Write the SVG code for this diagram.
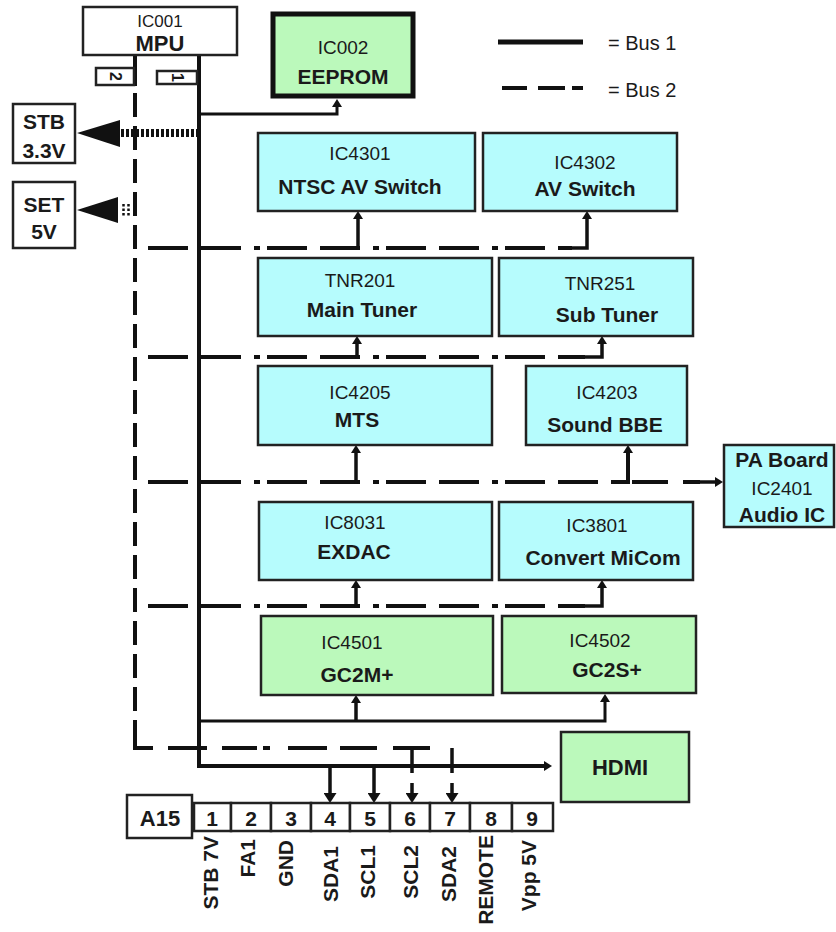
<svg xmlns="http://www.w3.org/2000/svg" width="836" height="932" viewBox="0 0 836 932">
<style>
.bc{fill:#b6fcfd;stroke:#222;stroke-width:2.5}
.bg{fill:#bbf9bb;stroke:#222;stroke-width:2.5}
.bw{fill:#fff;stroke:#222;stroke-width:2.5}
text{font-family:"Liberation Sans",Arial,sans-serif;fill:#1a1a1a;text-anchor:middle}
.id{font-size:19px}
.nm{font-size:21px;font-weight:bold}
.lg{font-size:20px;text-anchor:start}
.pin{font-size:21px;font-weight:bold}
.lab{font-size:21px;font-weight:bold;text-anchor:end}
.b1{stroke:#111;stroke-width:4;fill:none}
.b1t{stroke:#111;stroke-width:3;fill:none}
.b2{stroke:#111;stroke-width:4;fill:none;stroke-dasharray:40 13 40 13 6 7}
.b2v{stroke:#111;stroke-width:4;fill:none;stroke-dasharray:24 9}
.br{stroke:#111;stroke-width:3.5;fill:none}
.seg{stroke:#111;stroke-width:4;fill:none}
</style>
<defs>
<marker id="ah" viewBox="0 0 8 10" refX="2" refY="5" markerWidth="8" markerHeight="10" markerUnits="userSpaceOnUse" orient="auto">
<path d="M0,0 L8,5 L0,10 z" fill="#111"/>
</marker>
<marker id="ahb" viewBox="0 0 10 13" refX="3" refY="6.5" markerWidth="10" markerHeight="13" markerUnits="userSpaceOnUse" orient="auto">
<path d="M0,0 L10,6.5 L0,13 z" fill="#111"/>
</marker>
</defs>

<g id="legend">
<line x1="498" y1="42" x2="583" y2="42" stroke="#111" stroke-width="5"/>
<text class="lg" x="608" y="50">= Bus 1</text>
<path class="seg" d="M502,88 H527 M538,88 H565 M572,88 H583"/>
<text class="lg" x="608" y="97">= Bus 2</text>
</g>

<g id="connectors">
<path class="seg" d="M135,55 V86"/>
<path class="b2v" d="M135,93 V730"/>
<path class="seg" d="M135,730 V748 H153"/>
<path class="seg" d="M168,748 H207 M222,748 H257 M263,748 H270 M288,748 H327 M340,748 H377 M393,748 H430"/>
<path class="b1" d="M199,55 V766 H546" marker-end="url(#ah)"/>
<path class="b1t" d="M199,114 H337 V105" marker-end="url(#ah)"/>
<path class="b1t" d="M199,721 H605 V700" marker-end="url(#ah)"/>
<path class="br" d="M356,721 V701" marker-end="url(#ah)"/>
<path class="b2" d="M148,248 H572"/>
<path class="br" d="M358,250 V217" marker-end="url(#ah)"/>
<path class="br" d="M570,248 H587 V217" marker-end="url(#ah)"/>
<path class="b2" d="M148,357 H585"/>
<path class="br" d="M357,359 V342" marker-end="url(#ah)"/>
<path class="br" d="M585,357 H602 V342" marker-end="url(#ah)"/>
<path class="b2" d="M148,482 H612"/>
<path class="br" d="M356,484 V451" marker-end="url(#ah)"/>
<path class="seg" d="M612,482 H628 M632,482 H668 M683,482 H700"/>
<path class="seg" stroke-width="5" d="M628,484 V451" marker-end="url(#ah)"/>
<path class="br" d="M700,482 H717" marker-end="url(#ah)"/>
<path class="b2" d="M148,606 H585"/>
<path class="br" d="M356,608 V586" marker-end="url(#ah)"/>
<path class="br" d="M585,606 H602 V586" marker-end="url(#ah)"/>
<path class="br" d="M330,766 V796" marker-end="url(#ahb)"/>
<path class="br" d="M374,766 V796" marker-end="url(#ahb)"/>
<path class="br" d="M412,748 V773 M412,783 V796" marker-end="url(#ahb)"/>
<path class="br" d="M452,748 V773 M452,783 V796" marker-end="url(#ahb)"/>
<line x1="121" y1="133" x2="197" y2="133" stroke="#111" stroke-width="8" stroke-dasharray="3 2"/>
<polygon points="77,133 120,120 120,147" fill="#111"/>
<path d="M123.5,204 V216 M128.5,204 V216" stroke="#111" stroke-width="2.5" stroke-dasharray="2.5 2"/>
<polygon points="77,210 118,197 118,223" fill="#111"/>
</g>

<g id="mpu">
<rect class="bw" x="83" y="7" width="154" height="48"/>
<text class="id" x="160" y="27" style="font-size:17px">IC001</text>
<text class="nm" x="160" y="51" style="font-size:22px">MPU</text>
<rect class="bw" x="96" y="68" width="38" height="17" stroke-width="2"/>
<text x="115" y="76.5" transform="rotate(90 115 76.5)" dy="5.5" style="font-size:16px;font-weight:bold">2</text>
<rect class="bw" x="157" y="71" width="40" height="13" stroke-width="2"/>
<text x="177" y="77.5" transform="rotate(90 177 77.5)" dy="5.5" style="font-size:16px;font-weight:bold">1</text>
</g>

<g id="eeprom">
<rect x="273" y="14" width="140" height="82" fill="#bbf9bb" stroke="#111" stroke-width="5"/>
<text class="id" x="343" y="54">IC002</text>
<text class="nm" x="343" y="84">EEPROM</text>
</g>

<g id="stb">
<rect class="bw" x="13" y="104" width="62" height="59"/>
<text class="nm" x="44" y="129">STB</text>
<text class="nm" x="44" y="158">3.3V</text>
</g>
<g id="set">
<rect class="bw" x="13" y="182" width="62" height="66"/>
<text class="nm" x="44" y="212">SET</text>
<text class="nm" x="44" y="239">5V</text>
</g>

<g id="ic4301">
<rect class="bc" x="258" y="133" width="217" height="78"/>
<text class="id" x="360" y="160">IC4301</text>
<text class="nm" x="360" y="194">NTSC AV Switch</text>
</g>
<g id="ic4302">
<rect class="bc" x="483" y="133" width="194" height="78"/>
<text class="id" x="585" y="169">IC4302</text>
<text class="nm" x="585" y="196">AV Switch</text>
</g>
<g id="tnr201">
<rect class="bc" x="258" y="258" width="234" height="78"/>
<text class="id" x="360" y="287">TNR201</text>
<text class="nm" x="362" y="317">Main Tuner</text>
</g>
<g id="tnr251">
<rect class="bc" x="499" y="258" width="194" height="78"/>
<text class="id" x="600" y="290">TNR251</text>
<text class="nm" x="607" y="322">Sub Tuner</text>
</g>
<g id="ic4205">
<rect class="bc" x="258" y="366" width="234" height="79"/>
<text class="id" x="360" y="399">IC4205</text>
<text class="nm" x="357" y="427">MTS</text>
</g>
<g id="ic4203">
<rect class="bc" x="526" y="366" width="161" height="79"/>
<text class="id" x="607" y="399">IC4203</text>
<text class="nm" x="605" y="432">Sound BBE</text>
</g>
<g id="pa_board">
<rect class="bc" x="724" y="445" width="110" height="82"/>
<text class="nm" x="782" y="467">PA Board</text>
<text class="id" x="782" y="495">IC2401</text>
<text class="nm" x="782" y="522">Audio IC</text>
</g>
<g id="ic8031">
<rect class="bc" x="259" y="502" width="233" height="78"/>
<text class="id" x="355" y="529">IC8031</text>
<text class="nm" x="354" y="559">EXDAC</text>
</g>
<g id="ic3801">
<rect class="bc" x="499" y="502" width="194" height="78"/>
<text class="id" x="597" y="532">IC3801</text>
<text class="nm" x="603" y="565">Convert MiCom</text>
</g>
<g id="ic4501">
<rect class="bg" x="261" y="616" width="232" height="79"/>
<text class="id" x="352" y="649">IC4501</text>
<text class="nm" x="357" y="682">GC2M+</text>
</g>
<g id="ic4502">
<rect class="bg" x="502" y="616" width="194" height="77"/>
<text class="id" x="600" y="647">IC4502</text>
<text class="nm" x="607" y="677">GC2S+</text>
</g>
<g id="hdmi">
<rect class="bg" x="561" y="732" width="128" height="70" stroke-width="3"/>
<text class="nm" x="620" y="775" style="font-size:22px">HDMI</text>
</g>

<g id="a15">
<rect class="bw" x="127" y="795" width="65" height="43" stroke-width="3"/>
<text class="pin" x="160" y="826" style="font-size:22px">A15</text>
<rect class="bw" x="194" y="803" width="37" height="28"/>
<rect class="bw" x="231" y="803" width="40" height="28"/>
<rect class="bw" x="271" y="803" width="40" height="28"/>
<rect class="bw" x="311" y="803" width="39" height="28"/>
<rect class="bw" x="350" y="803" width="40" height="28"/>
<rect class="bw" x="390" y="803" width="40" height="28"/>
<rect class="bw" x="430" y="803" width="40" height="28"/>
<rect class="bw" x="470" y="803" width="42" height="28"/>
<rect class="bw" x="512" y="803" width="41" height="28"/>
<text class="pin" x="212" y="826">1</text>
<text class="pin" x="251" y="826">2</text>
<text class="pin" x="291" y="826">3</text>
<text class="pin" x="330" y="826">4</text>
<text class="pin" x="370" y="826">5</text>
<text class="pin" x="410" y="826">6</text>
<text class="pin" x="450" y="826">7</text>
<text class="pin" x="491" y="826">8</text>
<text class="pin" x="532" y="826">9</text>
<text class="lab" transform="translate(218,836) rotate(-90)">STB 7V</text>
<text class="lab" transform="translate(255,839) rotate(-90)">FA1</text>
<text class="lab" transform="translate(293,840) rotate(-90)">GND</text>
<text class="lab" transform="translate(338,846) rotate(-90)">SDA1</text>
<text class="lab" transform="translate(375,845) rotate(-90)">SCL1</text>
<text class="lab" transform="translate(418,845) rotate(-90)">SCL2</text>
<text class="lab" transform="translate(456,846) rotate(-90)">SDA2</text>
<text class="lab" transform="translate(493,835) rotate(-90)">REMOTE</text>
<text class="lab" transform="translate(536,840) rotate(-90)">Vpp 5V</text>
</g>
</svg>
